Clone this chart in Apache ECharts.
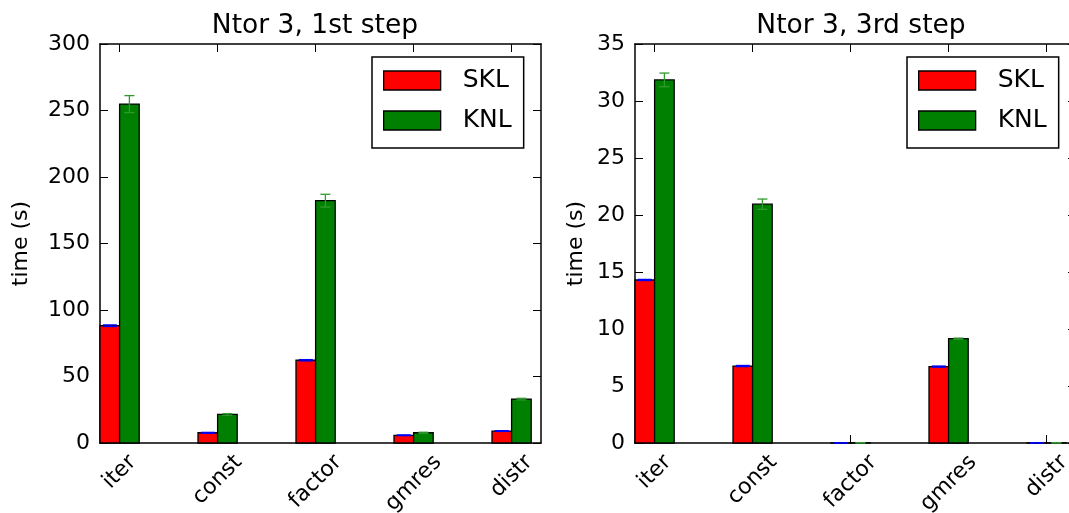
<!DOCTYPE html>
<html>
<head>
<meta charset="utf-8">
<script src="https://cdn.jsdelivr.net/npm/echarts@6/dist/echarts.min.js"></script>
<style>
  html, body { margin: 0; padding: 0; background: #fff; }
  #chart { width: 1069px; height: 513px; }
</style>
</head>
<body>
<div id="chart"></div>
<script>
// Run times per solver phase, SKL vs KNL
const categories = ['iter', 'const', 'factor', 'gmres', 'distr'];

// Ntor 3, 1st step
const sklStep1 = [88.2, 7.7, 62.2, 5.8, 9.0];
const sklStep1Err = [0.6, 0.3, 0.5, 0.3, 0.3];
const knlStep1 = [254.8, 21.5, 182.2, 7.7, 33.0];
const knlStep1Err = [6.4, 0.6, 4.8, 0.4, 0.6];

// Ntor 3, 3rd step
const sklStep3 = [14.3, 6.75, 0.01, 6.7, 0.01];
const sklStep3Err = [0.05, 0.05, 0, 0.05, 0];
const knlStep3 = [31.85, 20.95, 0.02, 9.15, 0.02];
const knlStep3Err = [0.6, 0.45, 0, 0.05, 0];

const titles = ['Ntor 3, 1st step', 'Ntor 3, 3rd step'];
const yTicks1 = { min: 0, max: 300, interval: 50 };
const yTicks3 = { min: 0, max: 35, interval: 5 };

const FONT = '"DejaVu Sans", sans-serif';
const TICK_FONT = 22;
const BAR_W = 0.2;           // bar width in category units
const SKL_COLOR = '#ff0000';
const KNL_COLOR = '#008000';

const chart = echarts.init(document.getElementById('chart'), null, { renderer: 'canvas' });

// rotated category labels: keep the top of each rotated label at the same height
const measureCtx = document.createElement('canvas').getContext('2d');
measureCtx.font = TICK_FONT + 'px ' + FONT;
const refW = measureCtx.measureText('const').width;
const rich = {};
categories.forEach((c, i) => {
  const w = measureCtx.measureText(c).width;
  const d = (w - refW) / 2;
  rich['c' + i] = {
    fontSize: TICK_FONT, fontFamily: FONT, color: '#000',
    padding: d >= 0 ? [d, d, 0, 0] : [0, 0, -d, -d]
  };
});

function barItem(offset, color) {
  return function (params, api) {
    const x = api.value(0);
    const y = api.value(1);
    const p0 = api.coord([x + offset, y]);
    const p1 = api.coord([x + offset + BAR_W, 0]);
    return {
      type: 'rect',
      shape: { x: p0[0], y: p0[1], width: p1[0] - p0[0], height: p1[1] - p0[1] },
      style: { fill: color, stroke: '#000', lineWidth: 1.3 }
    };
  };
}

function errItem(offset, color, cap) {
  return function (params, api) {
    const cx = api.value(0) + offset + BAR_W / 2;
    const y = api.value(1);
    const e = api.value(2);
    const top = api.coord([cx, y + e]);
    const bot = api.coord([cx, y - e]);
    const st = { stroke: color, lineWidth: 1.3 };
    return {
      type: 'group',
      children: [
        { type: 'line', shape: { x1: top[0], y1: top[1], x2: bot[0], y2: bot[1] }, style: st },
        { type: 'line', shape: { x1: top[0] - cap, y1: top[1], x2: top[0] + cap, y2: top[1] }, style: st },
        { type: 'line', shape: { x1: bot[0] - cap, y1: bot[1], x2: bot[0] + cap, y2: bot[1] }, style: st }
      ]
    };
  };
}

const gridLefts = [100, 635];
const grids = gridLefts.map(l => ({
  left: l, top: 44, width: 441, height: 399,
  containLabel: false, outerBoundsMode: 'none'
}));

const lineStyle = { color: '#000', width: 1.5 };
const tickIdx = categories.map((c, i) => i);
const tickLine = { color: '#000', width: 1 };

const xAxes = [];
const yAxes = [];
[0, 1].forEach(g => {
  xAxes.push({
    gridIndex: g, type: 'value', position: 'bottom', min: -0.2, max: 4.3,
    axisLine: { show: true, onZero: false, lineStyle },
    axisTick: { show: true, inside: true, length: 8, customValues: tickIdx, lineStyle: tickLine },
    axisLabel: {
      show: true, customValues: tickIdx, rotate: 45, margin: 37,
      align: 'center', verticalAlign: 'middle',
      formatter: v => '{c' + v + '|' + categories[v] + '}',
      rich
    },
    splitLine: { show: false }
  });
  xAxes.push({
    gridIndex: g, type: 'value', position: 'top', min: -0.2, max: 4.3,
    axisLine: { show: true, onZero: false, lineStyle },
    axisTick: { show: true, inside: true, length: 8, customValues: tickIdx, lineStyle: tickLine },
    axisLabel: { show: false },
    splitLine: { show: false }
  });
  const yt = g === 0 ? yTicks1 : yTicks3;
  yAxes.push({
    gridIndex: g, type: 'value', position: 'left', min: yt.min, max: yt.max, interval: yt.interval,
    name: 'time (s)', nameLocation: 'middle', nameRotate: 90, nameGap: g === 0 ? 68 : 48,
    nameTextStyle: { fontSize: TICK_FONT, fontFamily: FONT, color: '#000' },
    axisLine: { show: true, onZero: false, lineStyle },
    axisTick: { show: true, inside: true, length: 8, lineStyle: tickLine },
    axisLabel: { fontSize: TICK_FONT, fontFamily: FONT, color: '#000', margin: 10 },
    splitLine: { show: false }
  });
  yAxes.push({
    gridIndex: g, type: 'value', position: 'right', min: yt.min, max: yt.max, interval: yt.interval,
    axisLine: { show: true, onZero: false, lineStyle },
    axisTick: { show: true, inside: true, length: 8, lineStyle: tickLine },
    axisLabel: { show: false },
    splitLine: { show: false }
  });
});

const panels = [
  { skl: sklStep1, sklErr: sklStep1Err, knl: knlStep1, knlErr: knlStep1Err },
  { skl: sklStep3, sklErr: sklStep3Err, knl: knlStep3, knlErr: knlStep3Err }
];

const series = [];
panels.forEach((p, g) => {
  const axes = { xAxisIndex: 2 * g, yAxisIndex: 2 * g };
  const sklData = p.skl.map((v, i) => [i, v, p.sklErr[i]]);
  const knlData = p.knl.map((v, i) => [i, v, p.knlErr[i]]);
  series.push({ type: 'custom', name: 'SKL', ...axes, data: sklData, encode: { x: 0, y: 1 },
    itemStyle: { color: SKL_COLOR }, renderItem: barItem(-BAR_W, SKL_COLOR), z: 2 });
  series.push({ type: 'custom', name: 'KNL', ...axes, data: knlData, encode: { x: 0, y: 1 },
    itemStyle: { color: KNL_COLOR }, renderItem: barItem(0, KNL_COLOR), z: 2 });
  series.push({ type: 'custom', name: 'SKL', ...axes, data: sklData, encode: { x: 0, y: 1 },
    renderItem: errItem(-BAR_W, '#0000ff', 7), z: 3, silent: true });
  series.push({ type: 'custom', name: 'KNL', ...axes, data: knlData, encode: { x: 0, y: 1 },
    renderItem: errItem(0, '#2e9b2e', 5), z: 3, silent: true });
});

const legendLefts = [372, 907];
const legends = legendLefts.map(l => ({
  left: l, top: 57, orient: 'vertical',
  itemWidth: 57, itemHeight: 19, itemGap: 15,
  padding: [11, 12, 15, 11],
  borderColor: '#000', borderWidth: 1.5, backgroundColor: '#fff',
  textStyle: { fontSize: 25, fontFamily: FONT, color: '#000', lineHeight: 19, padding: [0, 0, 0, 17] },
  data: [
    { name: 'SKL', icon: 'rect', itemStyle: { color: SKL_COLOR, borderColor: '#000', borderWidth: 1.3 } },
    { name: 'KNL', icon: 'rect', itemStyle: { color: KNL_COLOR, borderColor: '#000', borderWidth: 1.3 } }
  ],
  selectedMode: false
}));

const titleCenters = [310, 856];
const titleComps = titles.map((t, g) => ({
  text: t, left: titleCenters[g], top: 8, textAlign: 'center',
  textStyle: { fontSize: 26.5, fontFamily: FONT, fontWeight: 'normal', color: '#000' }
}));

chart.setOption({
  animation: false,
  backgroundColor: '#fff',
  title: titleComps,
  legend: legends,
  grid: grids,
  xAxis: xAxes,
  yAxis: yAxes,
  series
});
</script>
</body>
</html>
